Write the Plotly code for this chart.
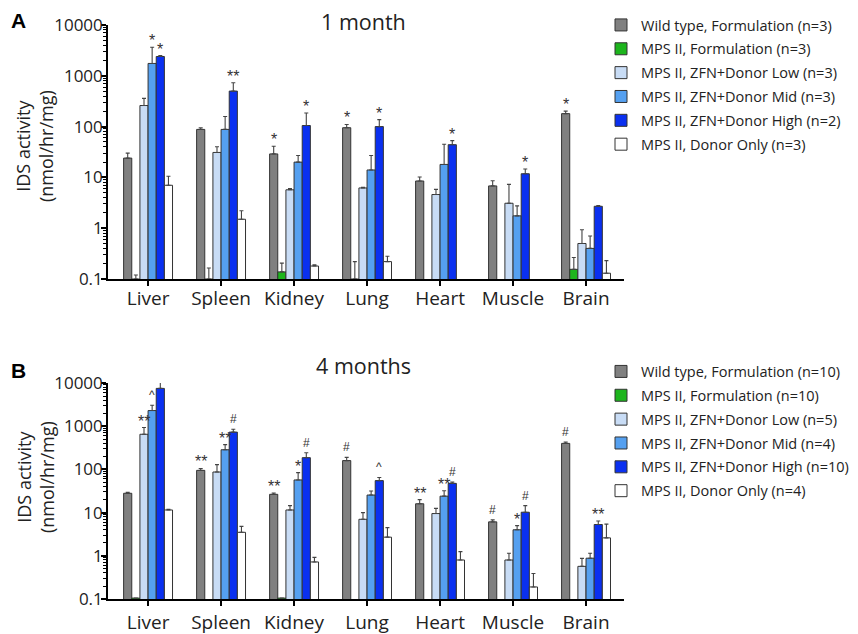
import plotly.graph_objects as go
import math

categories = ["Liver", "Spleen", "Kidney", "Lung", "Heart", "Muscle", "Brain"]
groups = ["Wild type, Formulation", "MPS II, Formulation", "MPS II, ZFN+Donor Low",
          "MPS II, ZFN+Donor Mid", "MPS II, ZFN+Donor High", "MPS II, Donor Only"]
n_1m = [3, 3, 3, 3, 2, 3]
n_4m = [10, 10, 5, 4, 10, 4]
colors = ["#808080", "#1db51d", "#c8dcf5", "#55a0f0", "#0a30f0", "#ffffff"]

# ---- 1 month (panel A) ----
wt_1m = [24, 88, 29, 95, 8.5, 6.8, 180]
wt_1m_err = [6, 7, 12, 15, 1.7, 1.8, 22]
form_1m = [0.1, 0.1, 0.138, 0.1, None, None, 0.155]
form_1m_err = [0.02, 0.065, 0.067, 0.12, None, None, 0.11]
low_1m = [260, 31, 5.7, 6.2, 4.6, 3.1, 0.5]
low_1m_err = [100, 9, 0.3, 0.2, 1.2, 4.2, 0.43]
mid_1m = [1750, 88, 20, 14, 18, 1.75, 0.4]
mid_1m_err = [1900, 70, 7, 13, 27, 1.0, 0.3]
high_1m = [2400, 500, 105, 100, 44, 11.8, 2.7]
high_1m_err = [100, 230, 80, 37, 9, 2.8, 0.1]
donor_1m = [7, 1.5, 0.18, 0.22, None, None, 0.13]
donor_1m_err = [3.5, 0.7, 0.01, 0.06, None, None, 0.1]

# ---- 4 months (panel B) ----
wt_4m = [28, 95, 26.5, 160, 16, 6.1, 400]
wt_4m_err = [1.5, 10, 2, 30, 4, 0.7, 30]
form_4m = [0.105, None, 0.105, None, None, None, None]
form_4m_err = [None, None, None, None, None, None, None]
low_4m = [650, 87, 11.5, 7, 9.5, 0.8, 0.57]
low_4m_err = [280, 42, 3, 3, 3, 0.35, 0.3]
mid_4m = [2300, 285, 57, 25.5, 24, 4.0, 0.88]
mid_4m_err = [750, 90, 27, 6, 8, 1.0, 0.27]
high_4m = [7500, 730, 187, 55, 47.5, 10.2, 5.3]
high_4m_err = [3000, 120, 56, 10, 3.5, 4.3, 1.1]
donor_4m = [11.5, 3.5, 0.72, 2.7, 0.8, 0.19, 2.6]
donor_4m_err = [0.5, 1.3, 0.2, 1.8, 0.45, 0.2, 2.8]

# significance marks: (category index, group index, text)
sig_1m = [(0, 3, "*"), (0, 4, "*"), (1, 4, "**"), (2, 0, "*"), (2, 4, "*"), (3, 0, "*"),
          (3, 4, "*"), (4, 4, "*"), (5, 4, "*"), (6, 0, "*")]
sig_4m = [(0, 2, "**"), (0, 3, "^"), (0, 4, "#"), (1, 0, "**"), (1, 3, "**"), (1, 4, "#"),
          (2, 0, "**"), (2, 3, "*"), (2, 4, "#"), (3, 0, "#"), (3, 4, "^"), (4, 0, "**"),
          (4, 3, "**"), (4, 4, "#"), (5, 0, "#"), (5, 3, "*"), (5, 4, "#"), (6, 0, "#"),
          (6, 4, "**")]

panel_1m = [(wt_1m, wt_1m_err), (form_1m, form_1m_err), (low_1m, low_1m_err),
            (mid_1m, mid_1m_err), (high_1m, high_1m_err), (donor_1m, donor_1m_err)]
panel_4m = [(wt_4m, wt_4m_err), (form_4m, form_4m_err), (low_4m, low_4m_err),
            (mid_4m, mid_4m_err), (high_4m, high_4m_err), (donor_4m, donor_4m_err)]

# page has an 8px body margin: size the figure so it fits the 858x634 window
OFF = 8
W, H = 858 - OFF, 634 - OFF
FONT = "Open Sans"
BARGAP = 0.33

fig = go.Figure()


def px(x):
    return (x - OFF) / W


def py(y):
    return 1 - (y - OFF) / H


def add_panel(data, ns, xa, ya, legend_name):
    for gi, (vals, errs) in enumerate(data):
        fig.add_trace(go.Bar(
            x=categories, y=vals,
            name=f"{groups[gi]} (n={ns[gi]})",
            marker=dict(color=colors[gi], line=dict(color="#333333", width=1)),
            error_y=dict(type="data", symmetric=False, array=errs,
                         arrayminus=[0] * len(errs), color="#444444",
                         thickness=1.1, width=2),
            xaxis=xa, yaxis=ya, legend=legend_name, legendgroup=f"{legend_name}{gi}",
        ))


add_panel(panel_1m, n_1m, "x", "y", "legend")
add_panel(panel_4m, n_4m, "x2", "y2", "legend2")

slot = (1 - BARGAP) / 6


def add_sigs(sigs, data, xref, yref):
    for ci, gi, txt in sigs:
        v, e = data[gi]
        top = v[ci] + (e[ci] or 0)
        star = "*" in txt
        fig.add_annotation(
            x=ci - (1 - BARGAP) / 2 + slot * (gi + 0.5), y=math.log10(top),
            xref=xref, yref=yref, text=txt, showarrow=False,
            xanchor="center", yanchor="bottom", yshift=-4 if star else 1,
            font=dict(family="Liberation Sans", size=16 if star else 12, color="#333333"))


add_sigs(sig_1m, panel_1m, "x", "y")
add_sigs(sig_4m, panel_4m, "x2", "y2")

xdom = [px(108), px(624)]
xaxis_common = dict(
    type="category", range=[-0.549, 6.52], showline=True, linecolor="black", linewidth=1.6,
    ticks="outside", ticklen=5, tickwidth=1.5, tickcolor="black", showgrid=False,
    tickfont=dict(family=FONT, size=19, color="#222222"), domain=xdom, zeroline=False,
    automargin=False,
)
yaxis_common = dict(
    type="log", range=[-1, 4], dtick=1, tickformat="~g", showline=True,
    linecolor="black", linewidth=1.6, ticks="outside", ticklen=5, tickwidth=1.5,
    tickcolor="black", showgrid=False, zeroline=False, automargin=False,
    ticklabelstandoff=-5,
    tickfont=dict(family=FONT, size=17, color="#222222"),
    minor=dict(ticks="outside", dtick="D1", ticklen=3, tickwidth=1, tickcolor="black",
               showgrid=False),
)

fig.update_layout(
    template="none",
    width=W, height=H, margin=dict(l=0, r=0, t=0, b=0, autoexpand=False),
    paper_bgcolor="white", plot_bgcolor="white",
    barmode="group", bargap=BARGAP, bargroupgap=0,
    xaxis=dict(**xaxis_common, anchor="y", ticklabelstandoff=-4),
    yaxis=dict(**yaxis_common, domain=[py(279), py(25)], anchor="x"),
    xaxis2=dict(**xaxis_common, anchor="y2", ticklabelstandoff=0),
    yaxis2=dict(**yaxis_common, domain=[py(599), py(383)], anchor="x2"),
    legend=dict(x=px(601), y=py(9), xanchor="left", yanchor="top",
                font=dict(family=FONT, size=14.5, color="#222222"),
                tracegroupgap=2, bgcolor="rgba(0,0,0,0)"),
    legend2=dict(x=px(601), y=py(355.5), xanchor="left", yanchor="top",
                 font=dict(family=FONT, size=14.5, color="#222222"),
                 tracegroupgap=2, bgcolor="rgba(0,0,0,0)"),
    showlegend=True,
)

# axis titles, panel letters, panel titles
for yc in (py(146), py(477)):
    fig.add_annotation(x=px(35), y=yc, xref="paper", yref="paper",
                       text="IDS activity<br>(nmol/hr/mg)", textangle=-90, showarrow=False,
                       xanchor="center", yanchor="middle",
                       font=dict(family=FONT, size=18, color="#222222"))
for txt, yc in (("A", py(20)), ("B", py(370))):
    fig.add_annotation(x=px(18), y=yc, xref="paper", yref="paper", text=f"<b>{txt}</b>",
                       showarrow=False, xanchor="center", yanchor="middle",
                       font=dict(family="Liberation Sans", size=21, color="black"))
for txt, yc in (("1 month", py(22)), ("4 months", py(365))):
    fig.add_annotation(x=px(363), y=yc, xref="paper", yref="paper", text=txt,
                       showarrow=False, xanchor="center", yanchor="middle",
                       font=dict(family=FONT, size=21.5, color="#222222"))

fig.write_html("out.html")
